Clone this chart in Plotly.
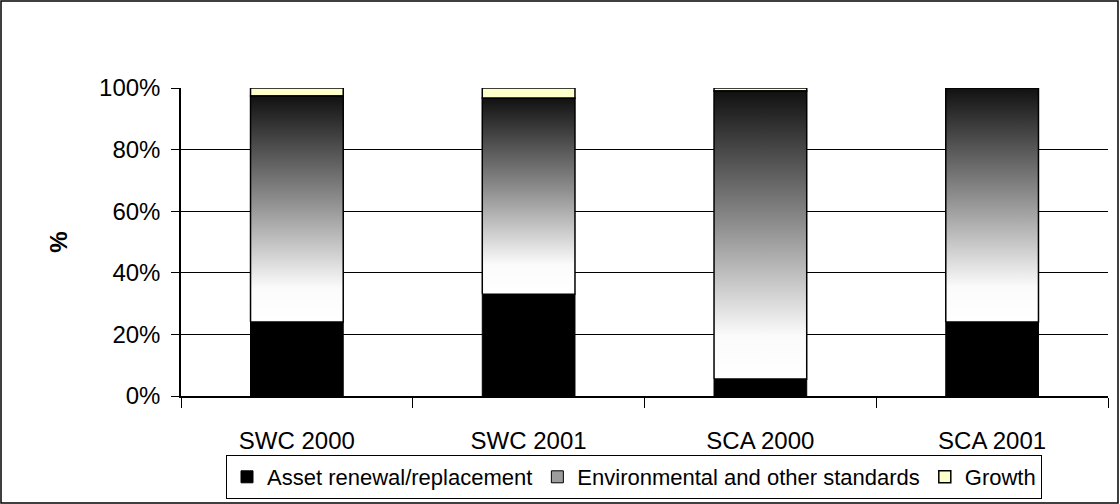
import plotly.graph_objects as go

# Capital expenditure split by purpose (share of total, %)
categories = ["SWC 2000", "SWC 2001", "SCA 2000", "SCA 2001"]
asset_renewal = [24.0, 33.0, 5.5, 24.0]
growth = [2.6, 3.3, 1.0, 0.0]
environmental = [round(100 - a - g, 1) for a, g in zip(asset_renewal, growth)]
y_ticks = [0, 20, 40, 60, 80, 100]

FONT = "Liberation Sans, Arial, sans-serif"
W, H = 1120, 504
ML, MR, MT, MB = 181, 12, 88, 108
HALF = 0.2  # half bar width in category units
ENV_SCALE = [[0, "#ffffff"], [0.15, "#fbfbfb"], [0.55, "#8a8a8a"], [1, "#111111"]]

xs = list(range(len(categories)))
fig = go.Figure()

# Asset renewal: solid black bars from the axis
fig.add_trace(go.Bar(
    x=xs, y=asset_renewal, width=2 * HALF, name="Asset renewal/replacement",
    marker=dict(color="black", line=dict(color="black", width=1)),
    legendrank=1,
))

# Legend key for the environmental segment (the boxes themselves are drawn below)
fig.add_trace(go.Bar(
    x=[None], y=[None], name="Environmental and other standards",
    marker=dict(color="#9c9c9c", line=dict(color="black", width=1)),
    legendrank=2,
))

# Growth: pale yellow caps on top of the other two segments
fig.add_trace(go.Bar(
    x=xs, y=growth, base=[a + e for a, e in zip(asset_renewal, environmental)],
    width=2 * HALF, name="Growth",
    marker=dict(color="#FFFFCC", line=dict(color="black", width=1.5)),
    legendrank=3,
))

# Environmental standards: one gradient-filled box per bar
for i, (a, e) in enumerate(zip(asset_renewal, environmental)):
    lo, hi = a, a + e
    fig.add_trace(go.Scatter(
        x=[i - HALF, i + HALF, i + HALF, i - HALF, i - HALF],
        y=[lo, lo, hi, hi, lo],
        mode="lines", fill="toself",
        line=dict(color="black", width=1.5),
        fillgradient=dict(type="vertical", colorscale=ENV_SCALE),
        name="Environmental and other standards",
        showlegend=False, hoverinfo="skip",
    ))

fig.update_layout(
    width=W, height=H,
    margin=dict(l=ML, r=MR, t=MT, b=MB, autoexpand=False),
    paper_bgcolor="white", plot_bgcolor="white",
    font=dict(family=FONT, size=24, color="black"),
    barmode="overlay",
    showlegend=True,
    legend=dict(
        orientation="h", xref="container", x=634 / W, xanchor="center",
        yref="container", y=1 - 455 / H, yanchor="top",
        bordercolor="black", borderwidth=1, font=dict(size=22, family=FONT),
        traceorder="normal", itemwidth=30, tracegroupgap=0,
    ),
)

fig.update_xaxes(
    range=[-0.5, len(categories) - 0.5],
    tickvals=xs, ticktext=categories, ticks="",
    ticklabelstandoff=22,
    tickfont=dict(size=24),
    minor=dict(tickvals=[i - 0.5 for i in range(len(categories) + 1)],
               ticks="outside", ticklen=10, tickcolor="black", showgrid=False),
    showline=True, linecolor="black", linewidth=1.5,
    showgrid=False, zeroline=False, fixedrange=True,
)
fig.update_yaxes(
    range=[0, 100], tickvals=y_ticks, ticktext=[f"{v}%" for v in y_ticks],
    ticks="outside", ticklen=8, tickcolor="black",
    ticklabelstandoff=6, tickfont=dict(size=24),
    showline=True, linecolor="black", linewidth=1.5,
    showgrid=True, gridcolor="black", gridwidth=1,
    zeroline=False,
    title=dict(text="<b>%</b>", standoff=25, font=dict(size=24)),
)

# Outer chart frame around the whole figure
pw, ph = W - ML - MR, H - MT - MB
fig.add_shape(
    type="rect", xref="paper", yref="paper",
    x0=(1 - ML) / pw, x1=(W - 2 - ML) / pw,
    y0=-(MB - 1) / ph, y1=(ph + MT - 1) / ph,
    line=dict(color="black", width=1.5), layer="above",
)

fig.write_html("out.html")
